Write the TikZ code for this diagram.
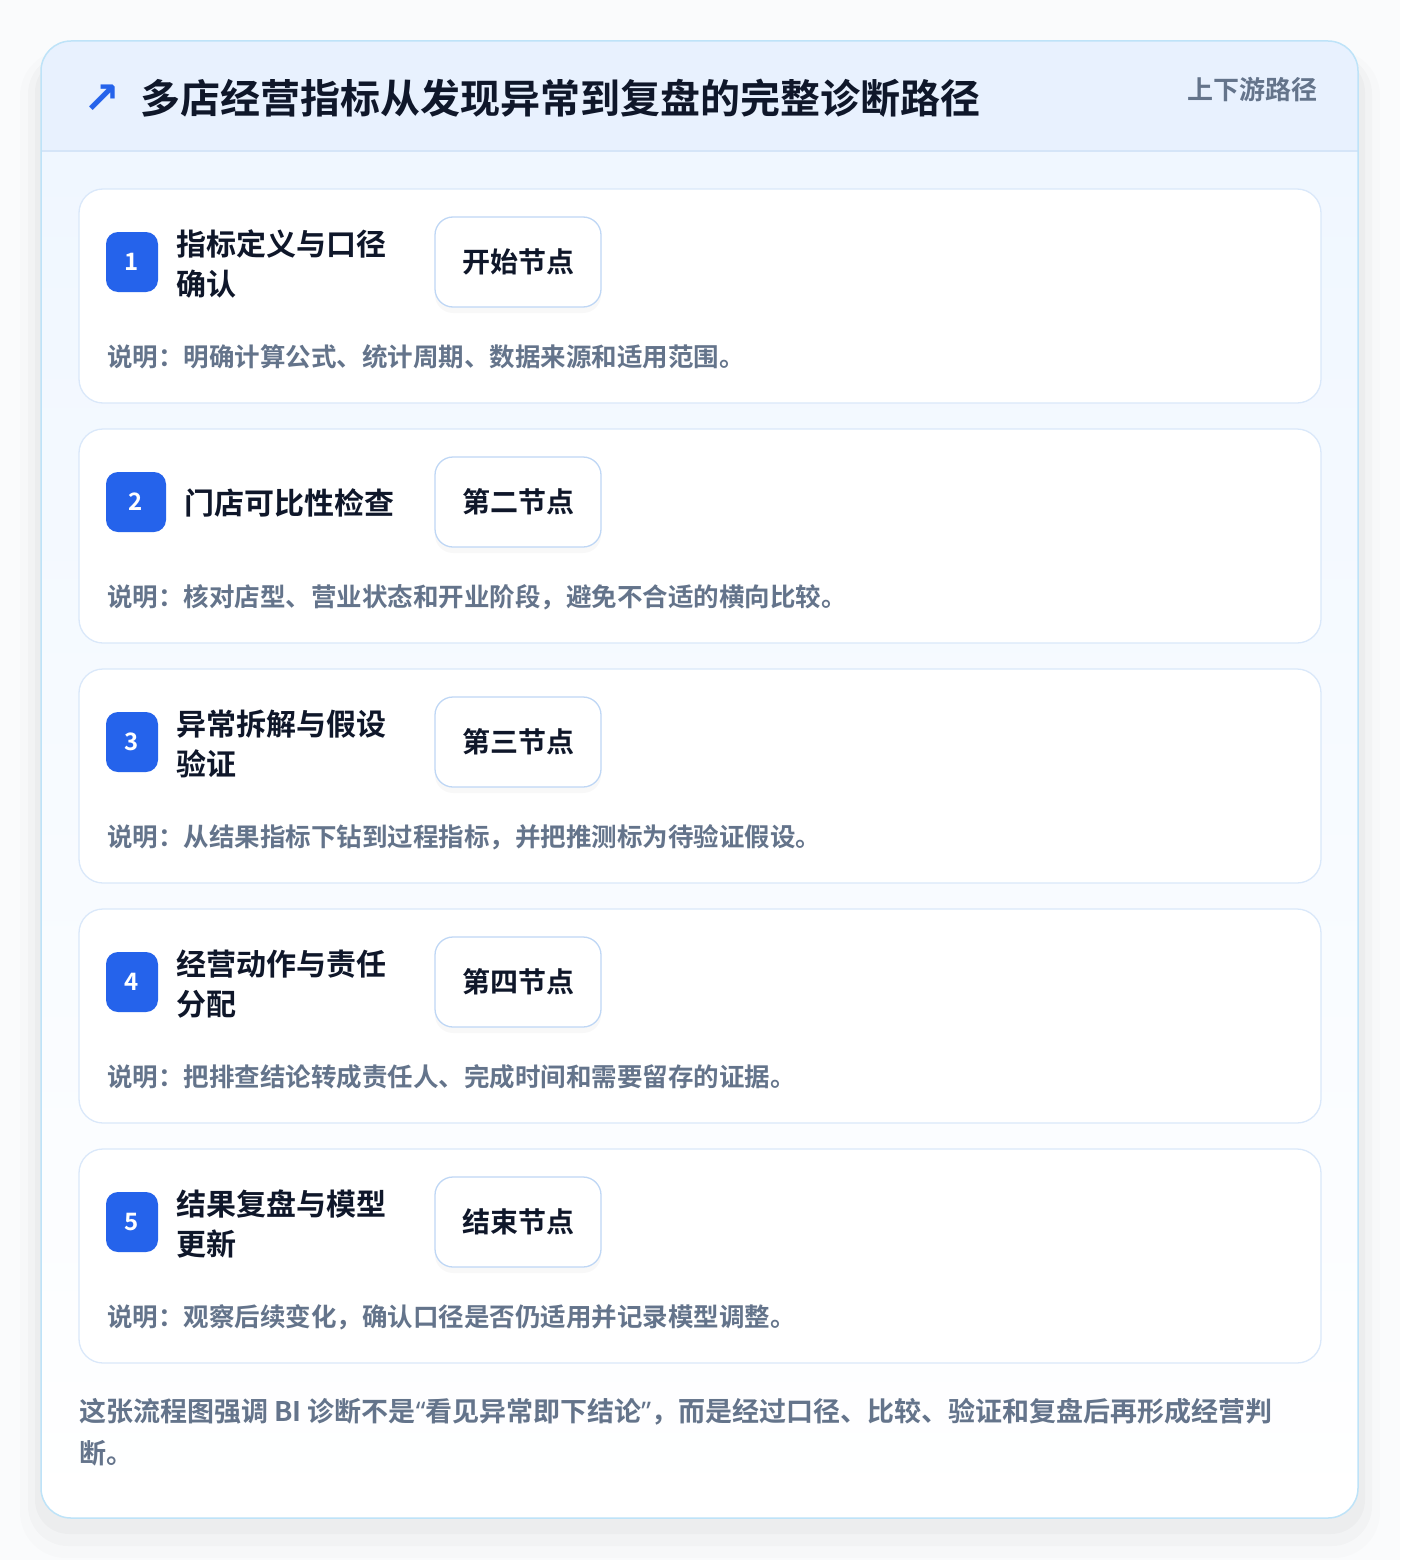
\documentclass[tikz,border=0pt]{standalone}
\usepackage{fontspec}
\setmainfont{Noto Sans CJK SC}[BoldFont={Noto Sans CJK SC Bold}]
\newfontfamily\iconfont{DejaVu Sans}
\newfontfamily\quotefont{Noto Sans}
\usepackage{tikz}
\usetikzlibrary{positioning,shadows}
\definecolor{ink}{HTML}{0F172A}
\definecolor{muted}{HTML}{64748B}
\definecolor{accent}{HTML}{2563EB}
\definecolor{pagebg}{HTML}{FAFBFC}
\definecolor{frameline}{HTML}{BEE3F8}
\definecolor{headbg}{HTML}{E8F1FE}
\definecolor{headline}{HTML}{D5E5F8}
\definecolor{bodytop}{HTML}{F0F7FF}
\definecolor{cardline}{HTML}{DAE8FA}
\definecolor{tagline}{HTML}{BFD7F5}

\begin{document}
\begin{tikzpicture}[x=1pt,y=-1pt]
            \tikzstyle{card}=[rounded corners=24pt, draw=cardline, line width=1.3pt, fill=white]
            \tikzstyle{badge}=[rectangle, rounded corners=12pt, fill=accent, text=white, minimum width=52pt, minimum height=60pt, inner sep=0pt, font=\fontsize{24}{28}\selectfont\bfseries]
            \tikzstyle{steptitle}=[anchor=west, align=left, inner sep=0pt, text=ink, font=\fontsize{30}{40}\selectfont\bfseries]
            \tikzstyle{tag}=[rectangle, rounded corners=18pt, draw=tagline, line width=1.3pt, fill=white, minimum width=166pt, minimum height=90pt, inner sep=0pt, text=ink, font=\fontsize{28}{32}\selectfont\bfseries, drop shadow={opacity=0.05, shadow xshift=0pt, shadow yshift=-6pt}]
            \tikzstyle{note}=[anchor=west, inner sep=0pt, text=muted, font=\fontsize{25.5}{30}\selectfont\bfseries]
            \useasboundingbox (0,0) rectangle (1400,1560);
            \fill[pagebg] (0,0) rectangle (1400,1560);
            % soft shadow of the frame
            \fill[black, opacity=0.012, rounded corners=46pt] (20,50) rectangle (1380,1558);
            \fill[black, opacity=0.018, rounded corners=40pt] (28,54) rectangle (1372,1546);
            \fill[black, opacity=0.025, rounded corners=34pt] (35,58) rectangle (1365,1534);
            \begin{scope}
              \clip[rounded corners=30pt] (41,41) rectangle (1358,1518);
              \shade[top color=bodytop, bottom color=white] (41,151) rectangle (1358,1518);
              \fill[headbg] (41,41) rectangle (1358,151);
              \draw[headline, line width=1.3pt] (41,151) -- (1358,151);
            \end{scope}
            \draw[frameline, line width=1.5pt, rounded corners=30pt] (41,41) rectangle (1358,1518);

            % header
            \node[text=accent, inner sep=0pt, font=\iconfont\bfseries\fontsize{44}{44}\selectfont] (icon) at (102,99) {↗};
            \node[anchor=west, inner sep=0pt, text=ink, font=\fontsize{40}{48}\selectfont\bfseries] (title) at (140,98) {多店经营指标从发现异常到复盘的完整诊断路径};
            \node[anchor=east, inner sep=0pt, text=muted, font=\fontsize{26}{30}\selectfont\bfseries] (kind) at (1318,90) {上下游路径};

            % steps
            \draw[card] (79,189) rectangle (1321,403);
            \node[badge] (N1) at (132,262) {1};
            \node[steptitle] (T1) at (176,264) {指标定义与口径\\确认};
            \node[tag] (P1) at (518,262) {开始节点};
            \node[note] (D1) at (107,357) {说明：明确计算公式、统计周期、数据来源和适用范围。};

            \draw[card] (79,429) rectangle (1321,643);
            \node[badge, minimum width=60pt] (N2) at (136,502) {2};
            \node[steptitle] (T2) at (184,503) {门店可比性检查};
            \node[tag] (P2) at (518,502) {第二节点};
            \node[note] (D2) at (107,597) {说明：核对店型、营业状态和开业阶段，避免不合适的横向比较。};

            \draw[card] (79,669) rectangle (1321,883);
            \node[badge] (N3) at (132,742) {3};
            \node[steptitle] (T3) at (176,744) {异常拆解与假设\\验证};
            \node[tag] (P3) at (518,742) {第三节点};
            \node[note] (D3) at (107,837) {说明：从结果指标下钻到过程指标，并把推测标为待验证假设。};

            \draw[card] (79,909) rectangle (1321,1123);
            \node[badge] (N4) at (132,982) {4};
            \node[steptitle] (T4) at (176,984) {经营动作与责任\\分配};
            \node[tag] (P4) at (518,982) {第四节点};
            \node[note] (D4) at (107,1077) {说明：把排查结论转成责任人、完成时间和需要留存的证据。};

            \draw[card] (79,1149) rectangle (1321,1363);
            \node[badge] (N5) at (132,1222) {5};
            \node[steptitle] (T5) at (176,1224) {结果复盘与模型\\更新};
            \node[tag] (P5) at (518,1222) {结束节点};
            \node[note] (D5) at (107,1317) {说明：观察后续变化，确认口径是否仍适用并记录模型调整。};

            % closing remark
            \node[anchor=north west, align=left, inner sep=0pt, text=muted, font=\fontsize{27}{42}\selectfont\bfseries] (remark) at (79,1398) {这张流程图强调 BI 诊断不是{\quotefont “}看见异常即下结论{\quotefont ”}，而是经过口径、比较、验证和复盘后再形成经营判\\断。};
        \end{tikzpicture}
\end{document}
